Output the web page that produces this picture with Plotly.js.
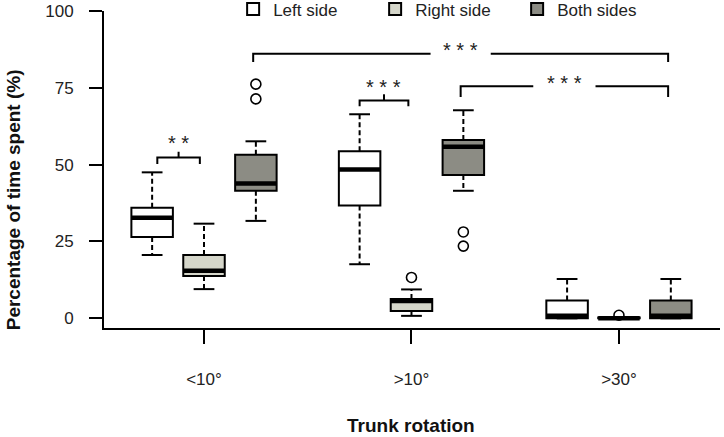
<!DOCTYPE html>
<html>
<head>
<meta charset="utf-8">
<script src="https://cdn.plot.ly/plotly-3.0.1.min.js"></script>
<style>html,body{margin:0;padding:0;background:#fff;}#chart{width:724px;height:437px;}</style>
</head>
<body>
<div id="chart"></div>
<script>
// ---- data ----
const categories = ['<10°', '>10°', '>30°'];
const seriesNames = ['Left side', 'Right side', 'Both sides'];

const leftQ1     = [26.5, 36.7, 0.0];
const leftMedian = [32.7, 48.4, 0.8];
const leftQ3     = [36.0, 54.4, 5.8];
const leftLow    = [20.6, 17.6, 0.0];
const leftHigh   = [47.5, 66.4, 12.8];
const leftOut    = [[], [], []];

const rightQ1     = [13.8, 2.4, 0.0];
const rightMedian = [15.5, 5.6, 0.0];
const rightQ3     = [20.6, 6.3, 0.3];
const rightLow    = [9.5, 0.8, 0.0];
const rightHigh   = [30.8, 9.4, 0.0];
const rightOut    = [[], [13.3], [1.0]];

const bothQ1     = [41.5, 46.6, 0.0];
const bothMedian = [43.9, 55.8, 0.8];
const bothQ3     = [53.2, 58.0, 5.8];
const bothLow    = [31.7, 41.5, 0.0];
const bothHigh   = [57.6, 67.7, 12.8];
const bothOut    = [[76.2, 71.4], [28.1, 23.5], []];

const yTicks = [0, 25, 50, 75, 100];
const sigLabels = ['* *', '* * *', '* * *', '* * *'];

// ---- styling ----
const fills = ['#ffffff', '#d5d6ca', '#8c8c84'];
const FONT = 'Liberation Sans, Arial, sans-serif';
const offsets = [-0.25, 0, 0.25];
const boxW = 0.2;
const capHalf = 0.05;

const series = [
  {q1: leftQ1, med: leftMedian, q3: leftQ3, lo: leftLow, hi: leftHigh, out: leftOut},
  {q1: rightQ1, med: rightMedian, q3: rightQ3, lo: rightLow, hi: rightHigh, out: rightOut},
  {q1: bothQ1, med: bothMedian, q3: bothQ3, lo: bothLow, hi: bothHigh, out: bothOut}
];

function pos(ci, si) { return ci + offsets[si]; }

const traces = [];
series.forEach((s, si) => {
  const xs = categories.map((c, ci) => pos(ci, si));
  traces.push({
    type: 'box', name: seriesNames[si], x: xs,
    q1: s.q1, median: s.med, q3: s.q3, lowerfence: s.q1, upperfence: s.q3,
    width: boxW, whiskerwidth: 0,
    fillcolor: fills[si], line: {color: '#000', width: 2},
    boxpoints: false, hoverinfo: 'skip', showlegend: true
  });
});
series.forEach((s, si) => {
  const wx = [], wy = [], cx = [], cy = [], mx = [], my = [], ox = [], oy = [];
  categories.forEach((c, ci) => {
    const x = pos(ci, si);
    wx.push(x, x, null, x, x, null);
    wy.push(s.q3[ci], s.hi[ci], null, s.q1[ci], s.lo[ci], null);
    cx.push(x - capHalf, x + capHalf, null, x - capHalf, x + capHalf, null);
    cy.push(s.hi[ci], s.hi[ci], null, s.lo[ci], s.lo[ci], null);
    mx.push(x - boxW / 2, x + boxW / 2, null);
    my.push(s.med[ci], s.med[ci], null);
    s.out[ci].forEach(v => { ox.push(x); oy.push(v); });
  });
  traces.push({type: 'scatter', mode: 'lines', x: wx, y: wy, line: {color: '#000', width: 2, dash: '5px,3px'}, showlegend: false, hoverinfo: 'skip'});
  traces.push({type: 'scatter', mode: 'lines', x: cx, y: cy, line: {color: '#000', width: 2}, showlegend: false, hoverinfo: 'skip'});
  traces.push({type: 'scatter', mode: 'lines', x: mx, y: my, line: {color: '#000', width: 4.5}, showlegend: false, hoverinfo: 'skip'});
  traces.push({type: 'scatter', mode: 'markers', x: ox, y: oy, marker: {symbol: 'circle-open', size: 10, color: '#000', line: {width: 1.6}}, showlegend: false, hoverinfo: 'skip'});
});

// significance brackets (annotation layout)
const brackets = [
  {a: pos(0, 0) + 0.025, b: pos(0, 1) - 0.02, y: 52.3, leg: 50.2, nub: 54.2, ty: 57.7, kind: 'small'},
  {a: pos(1, 0) + 0.0, b: pos(1, 1) - 0.015, y: 70.9, leg: 69.0, nub: 72.9, ty: 75.8, kind: 'small'},
  {a: pos(0, 2) - 0.013, b: pos(2, 2) - 0.013, y: 86.1, leg: 83.4, gap: 0.145, ty: 88.0, kind: 'big'},
  {a: pos(1, 2) - 0.013, b: pos(2, 2) - 0.013, y: 75.5, leg: 72.0, gap: 0.15, ty: 77.1, kind: 'big'}
];
const annotations = [];
brackets.forEach((br, i) => {
  const m = (br.a + br.b) / 2;
  let bx, by;
  if (br.kind === 'small') {
    bx = [br.a, br.a, br.b, br.b, null, m, m];
    by = [br.leg, br.y, br.y, br.leg, null, br.y, br.nub];
  } else {
    bx = [br.a, br.a, m - br.gap, null, m + br.gap, br.b, br.b];
    by = [br.leg, br.y, br.y, null, br.y, br.y, br.leg];
  }
  traces.push({type: 'scatter', mode: 'lines', x: bx, y: by, line: {color: '#000', width: 2}, showlegend: false, hoverinfo: 'skip'});
  annotations.push({x: m, y: br.ty, xref: 'x', yref: 'y', text: sigLabels[i], showarrow: false,
    font: {family: FONT, size: 20, color: '#222'}, yanchor: 'middle', yshift: -2});
});

annotations.push({xref: 'paper', yref: 'paper', x: -0.168, y: 0.403, text: '<b>Percentage of time spent (%)</b>',
  textangle: -90, showarrow: false, font: {family: FONT, size: 19, color: '#111'}});
annotations.push({xref: 'x', yref: 'paper', x: 1, y: -0.348, text: '<b>Trunk rotation</b>',
  showarrow: false, font: {family: FONT, size: 19, color: '#111'}});

const layout = {
  width: 724, height: 437,
  margin: {l: 104, r: 4, t: 11, b: 109, autoexpand: false},
  paper_bgcolor: '#fff', plot_bgcolor: '#fff',
  boxmode: 'overlay',
  showlegend: true,
  legend: {orientation: 'h', xref: 'container', yref: 'paper', x: 0.322, y: 1.005, xanchor: 'left', yanchor: 'middle',
    entrywidth: 97, entrywidthmode: 'pixels', font: {family: FONT, size: 17, color: '#222'}, bgcolor: 'rgba(0,0,0,0)'},
  xaxis: {range: [-0.482, 2.487], tickmode: 'array', tickvals: categories.map((c, i) => i), ticktext: categories,
    showline: true, linecolor: '#000', linewidth: 2, ticks: 'outside', ticklen: 14, tickwidth: 2, tickcolor: '#000',
    showgrid: false, zeroline: false, ticklabelstandoff: 21, tickfont: {family: FONT, size: 17, color: '#222'}},
  yaxis: {range: [-3.15, 100], tickmode: 'array', tickvals: yTicks, ticktext: yTicks.map(String),
    showline: true, linecolor: '#000', linewidth: 2, ticks: 'outside', ticklen: 13, tickwidth: 2, tickcolor: '#000',
    showgrid: false, zeroline: false, ticklabelstandoff: 12, tickfont: {family: FONT, size: 17, color: '#222'}},
  annotations: annotations
};

Plotly.newPlot('chart', traces, layout, {displayModeBar: false, staticPlot: true});
</script>
</body>
</html>
